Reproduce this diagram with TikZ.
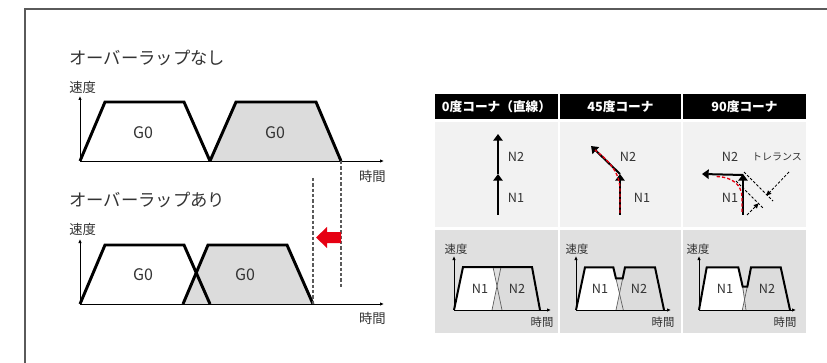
\documentclass[tikz,border=0pt]{standalone}
\usepackage{fontspec}
\newfontfamily\jp{Noto Sans CJK JP}
\usetikzlibrary{arrows.meta}
\definecolor{txt}{HTML}{333333}
\definecolor{frame}{HTML}{5A5A5A}
\definecolor{fillg}{HTML}{DCDCDC}
\definecolor{rowa}{HTML}{F2F2F2}
\definecolor{rowb}{HTML}{E0E0E0}
\definecolor{redc}{HTML}{E60012}
\tikzset{
  title/.style={font=\jp\fontsize{13}{13}\selectfont, text=txt, inner sep=0pt, anchor=west},
  axlbl/.style={font=\jp\fontsize{10}{10}\selectfont, text=txt, inner sep=0pt},
  slbl/.style={font=\jp\fontsize{8.5}{8.5}\selectfont, text=txt, inner sep=0pt},
  glbl/.style={font=\jp\fontsize{12}{12}\selectfont, text=txt, inner sep=0pt},
  nlbl/.style={font=\jp\fontsize{9.5}{9.5}\selectfont, text=txt, inner sep=0pt},
  hdr/.style={font=\jp\bfseries\fontsize{9.5}{9.5}\selectfont, text=white, inner sep=0pt},
  axis/.style={line width=0.7pt, -{Latex[length=3pt,width=2.6pt]}},
  thick trap/.style={line width=2.2pt, line join=miter},
  env/.style={line width=1.5pt, line join=miter},
  thinx/.style={line width=0.5pt, draw=frame},
  dline/.style={draw=frame, line width=0.8pt, dash pattern=on 2.5pt off 1.5pt},
  marr/.style={line width=1.5pt, -{Triangle[length=5pt,width=7pt]}},
  rdash/.style={draw=redc, line width=1pt, dash pattern=on 2.5pt off 1.5pt},
  tdash/.style={draw=black, line width=0.6pt, dash pattern=on 2pt off 1.3pt},
  darr/.style={draw=black, line width=0.6pt, dash pattern=on 2pt off 1.3pt, -{Triangle[length=3.5pt,width=3.5pt]}},
}
\begin{document}
\begin{tikzpicture}[x=0.75pt,y=-0.75pt]
\useasboundingbox (0,0) rectangle (827,363);
% frame
\draw[frame, line width=0.9pt] (827,9) -- (25,9) -- (25,363);

% ---------- upper left chart ----------
\node[title] (t1) at (69,58) {オーバーラップなし};
\node[axlbl, anchor=west] (v1) at (69,87) {速度};
\node[axlbl, anchor=east] (h1) at (386,176) {時間};
\filldraw[fill=white, thick trap] (80,161) -- (105,102) -- (184,102) -- (210,161);
\filldraw[fill=fillg, thick trap] (210,161) -- (236,102) -- (316,102) -- (341,161);
\coordinate (o1) at (80,161);
\coordinate (y1) at (80,96);
\coordinate (x1) at (384,161);
\draw[axis] (o1) -- (y1);
\draw[axis] (o1) -- (x1);
\node[glbl] (g1) at (143,133) {G0};
\node[glbl] (g2) at (275,133) {G0};

% ---------- lower left chart ----------
\node[title] (t2) at (69,200) {オーバーラップあり};
\node[axlbl, anchor=west] (v2) at (69,229) {速度};
\node[axlbl, anchor=east] (h2) at (386,318) {時間};
\fill[white] (80,304) -- (105,245) -- (184,245) -- (210,304) -- cycle;
\fill[fillg] (183,304) -- (208,245) -- (287,245) -- (313,304) -- cycle;
\draw[thick trap] (80,304) -- (105,245) -- (184,245) -- (210,304);
\draw[thick trap] (183,304) -- (208,245) -- (287,245) -- (313,304);
\coordinate (o2) at (80,304);
\coordinate (y2) at (80,239);
\coordinate (x2) at (384,304);
\draw[axis] (o2) -- (y2);
\draw[axis] (o2) -- (x2);
\node[glbl] (g3) at (143,275) {G0};
\node[glbl] (g4) at (245,275) {G0};

% dashed guides and red arrow
\coordinate (d1a) at (341,161);
\coordinate (d1b) at (341,288);
\coordinate (d2a) at (313,178);
\coordinate (d2b) at (313,304);
\draw[dline] (d1a) -- (d1b);
\draw[dline] (d2a) -- (d2b);
\fill[redc] (341,232) -- (327,232) -- (327,227) -- (316,237.5) -- (327,248) -- (327,243) -- (341,243) -- cycle;

% ---------- right panel ----------
% headers
\fill[black] (435,94) rectangle (558,119);
\fill[black] (560,94) rectangle (681,119);
\fill[black] (683,94) rectangle (806,119);
\node[hdr] (hd1) at (496.5,106.5) {0度コーナ（直線）};
\node[hdr] (hd2) at (620.5,106.5) {45度コーナ};
\node[hdr] (hd3) at (744.5,106.5) {90度コーナ};
% rows
\fill[rowa] (435,122) rectangle (558,227);
\fill[rowa] (560,122) rectangle (681,227);
\fill[rowa] (683,122) rectangle (806,227);
\fill[rowb] (435,230) rectangle (558,333);
\fill[rowb] (560,230) rectangle (681,333);
\fill[rowb] (683,230) rectangle (806,333);

% panel 1 (0 deg)
\coordinate (a1) at (498,215);
\coordinate (b1) at (498,174);
\coordinate (c1) at (498,134);
\draw[marr] (a1) -- (b1);
\draw[marr] (b1) -- (c1);
\node[nlbl] (p1n2) at (516,157) {N2};
\node[nlbl] (p1n1) at (516,198) {N1};

% panel 2 (45 deg)
\coordinate (a2) at (620,215);
\coordinate (b2) at (620,174);
\coordinate (c2) at (591,146);
\draw[marr] (a2) -- (b2);
\draw[marr] (b2) -- (c2);
\draw[rdash] (620,213) -- (620,190) .. controls (620,175) and (612,163) .. (595,150);
\node[nlbl] (p2n2) at (628,157) {N2};
\node[nlbl] (p2n1) at (642,198) {N1};

% panel 3 (90 deg)
\coordinate (a3) at (743,215);
\coordinate (b3) at (743,174);
\coordinate (c3) at (702,174);
\coordinate (k3) at (743,175);
\draw[marr] (a3) -- (b3);
\draw[marr] (k3) -- (c3);
\draw[rdash] (742,212) -- (742,198) .. controls (742,185) and (733,177) .. (716,176.5);
\node[nlbl] (p3n2) at (730,157) {N2};
\node[nlbl] (p3n1) at (730,198) {N1};
\node[font=\jp\fontsize{7.5}{7.5}\selectfont, text=txt, inner sep=0pt] (tol) at (777,157) {トレランス};
\coordinate (la1) at (744,172);
\coordinate (la2) at (773,201);
\coordinate (lb1) at (736,181);
\coordinate (lb2) at (763,208);
\draw[tdash] (la1) -- (la2);
\draw[tdash] (lb1) -- (lb2);
\coordinate (m1) at (789,172);
\coordinate (ma) at (766.5,195.5);
\coordinate (m2) at (747,215);
\coordinate (mb) at (758.5,203.5);
\draw[darr] (m1) -- (ma);
\draw[darr] (m2) -- (mb);

% bottom chart col 1
\node[slbl] (s1v) at (456,249) {速度};
\node[slbl] (s1h) at (542,322) {時間};
\fill[white] (454,310) -- (463,267) -- (493,267) -- (502,310) -- cycle;
\fill[fillg] (492,310) -- (501,267) -- (532,267) -- (540,310) -- cycle;
\draw[thinx] (493,267) -- (502,310);
\draw[thinx] (501,267) -- (492,310);
\draw[env] (454,310) -- (463,267) -- (532,267) -- (540,310);
\coordinate (so1) at (454,310);
\draw[axis] (so1) -- ++(0,-54);
\draw[axis] (so1) -- ++(97,0);
\node[nlbl] (s1n1) at (480,289) {N1};
\node[nlbl] (s1n2) at (517,289) {N2};

% bottom chart col 2
\node[slbl] (s2v) at (577,249) {速度};
\node[slbl] (s2h) at (663,322) {時間};
\fill[white] (576,310) -- (585,267.3) -- (613.3,267.3) -- (623.3,310) -- cycle;
\fill[fillg] (616,310) -- (625,267.3) -- (655,267.3) -- (664,310) -- cycle;
\draw[thinx] (615.9,278.3) -- (623.3,310);
\draw[thinx] (622.7,278.3) -- (616,310);
\draw[env] (576,310) -- (585,267.3) -- (613.3,267.3) -- (615.9,278.3) -- (622.7,278.3) -- (625,267.3) -- (655,267.3) -- (664,310);
\coordinate (so2) at (576,310);
\draw[axis] (so2) -- ++(0,-54);
\draw[axis] (so2) -- ++(95,0);
\node[nlbl] (s2n1) at (600,289) {N1};
\node[nlbl] (s2n2) at (639,289) {N2};

% bottom chart col 3
\node[slbl] (s3v) at (698,249) {速度};
\node[slbl] (s3h) at (785,322) {時間};
\fill[white] (699,310) -- (706.7,267.3) -- (738.3,267.3) -- (746,310) -- cycle;
\fill[fillg] (742.3,310) -- (751,267.3) -- (780.7,267.3) -- (790,310) -- cycle;
\draw[thinx] (742.7,286.7) -- (746,310);
\draw[thinx] (747.3,286.7) -- (742.3,310);
\draw[env] (699,310) -- (706.7,267.3) -- (738.3,267.3) -- (742.7,286.7) -- (747.3,286.7) -- (751,267.3) -- (780.7,267.3) -- (790,310);
\coordinate (so3) at (699,310);
\draw[axis] (so3) -- ++(0,-54);
\draw[axis] (so3) -- ++(97,0);
\node[nlbl] (s3n1) at (725,289) {N1};
\node[nlbl] (s3n2) at (767,289) {N2};
\end{tikzpicture}
\end{document}
